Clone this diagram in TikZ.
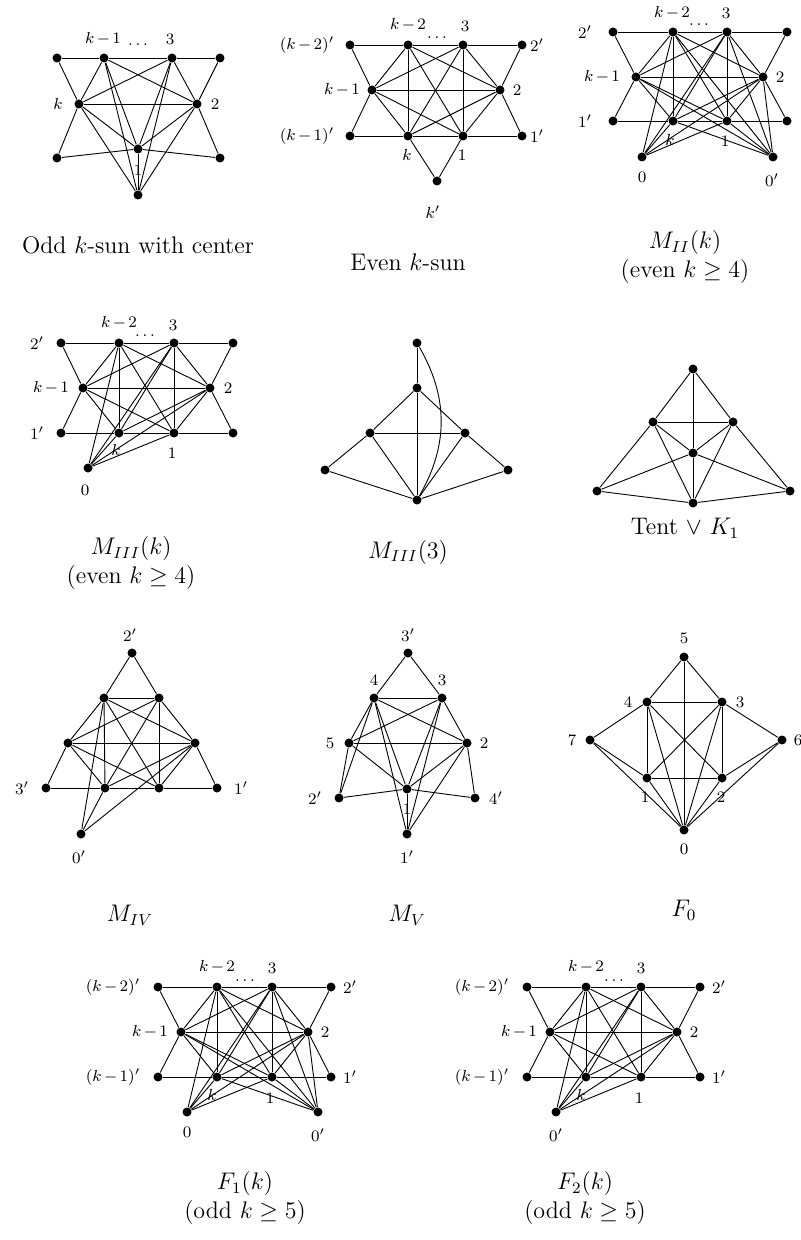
\documentclass[tikz,border=0pt]{standalone}
\usetikzlibrary{positioning}

\begin{document}
\begin{tikzpicture}[x=0.5pt, y=-0.5pt, line width=0.45pt,
  vtx/.style={circle, fill, inner sep=0pt, minimum size=4.5pt},
  lbl/.style={font=\footnotesize, inner sep=0pt},
  captxt/.style={font=\fontsize{12}{14.5}\selectfont, align=center, inner sep=0pt}]

\useasboundingbox (0,0) rectangle (800,1240);

% ============================================================
% k-SOL IMPAR CON CENTRO
% ============================================================
\node[vtx] (os-a) at (57,58) {};
\node[vtx] (os-km1) at (104,58) {};
\node[vtx] (os-3) at (172,58) {};
\node[vtx] (os-b) at (220,58) {};
\node[vtx] (os-k) at (79,104) {};
\node[vtx] (os-2) at (197,104) {};
\node[vtx] (os-1) at (138,149) {};
\node[vtx] (os-c) at (57,158) {};
\node[vtx] (os-d) at (220,158) {};
\node[vtx] (os-z) at (138,195) {};
\foreach \u/\v in {a/km1, km1/3, 3/b, a/k, b/2, k/2, km1/k, km1/2, km1/1, km1/z,
    3/k, 3/2, 3/1, 3/z, k/1, k/z, 2/1, 2/z, 1/z, c/k, c/1, d/2, d/1}
  \draw (os-\u) -- (os-\v);
\node[lbl] (os-lkm1) at (103,39) {$k\mkern-1.5mu-\mkern-1.5mu1$};
\node[lbl] (os-ldots) at (138,45) {$\ldots$};
\node[lbl] (os-l3) at (170,39) {$3$};
\node[lbl] (os-lk) at (58,104) {$k$};
\node[lbl] (os-l2) at (215,104) {$2$};
\node[lbl] (os-l1) at (138,170) {$1$};
\node[captxt] (os-cap) at (138,245) {Odd $k$-sun with center};

% ============================================================
% NODOS DE LOS GRAFOS TIPO SOL
% ============================================================

% --- k-sol par ---
\node[vtx] (es-a) at (350,45) {};
\node[vtx] (es-km2) at (408,45) {};
\node[vtx] (es-3) at (463,45) {};
\node[vtx] (es-b) at (522,45) {};
\node[vtx] (es-km1) at (372,90) {};
\node[vtx] (es-2) at (500,90) {};
\node[vtx] (es-c) at (350,136) {};
\node[vtx] (es-k) at (408,136) {};
\node[vtx] (es-1) at (463,136) {};
\node[vtx] (es-d) at (522,136) {};
\node[vtx] (es-e) at (437,181) {};

% --- M_II(k) ---
\node[vtx] (m2-a) at (613,32) {};
\node[vtx] (m2-km2) at (673,32) {};
\node[vtx] (m2-3) at (727,32) {};
\node[vtx] (m2-b) at (787,32) {};
\node[vtx] (m2-km1) at (636,77) {};
\node[vtx] (m2-2) at (763,77) {};
\node[vtx] (m2-c) at (613,121) {};
\node[vtx] (m2-k) at (673,121) {};
\node[vtx] (m2-1) at (727,121) {};
\node[vtx] (m2-d) at (787,121) {};
\node[vtx] (m2-0) at (642,157) {};
\node[vtx] (m2-0p) at (773,157) {};

% --- M_III(k) ---
\node[vtx] (m3-a) at (61,343) {};
\node[vtx] (m3-km2) at (119,343) {};
\node[vtx] (m3-3) at (174,343) {};
\node[vtx] (m3-b) at (233,343) {};
\node[vtx] (m3-km1) at (83,388) {};
\node[vtx] (m3-2) at (210,388) {};
\node[vtx] (m3-c) at (61,433) {};
\node[vtx] (m3-k) at (119,433) {};
\node[vtx] (m3-1) at (174,433) {};
\node[vtx] (m3-d) at (233,433) {};
\node[vtx] (m3-0) at (88,468) {};

% --- F_1(k) ---
\node[vtx] (f1-a) at (158,987) {};
\node[vtx] (f1-km2) at (217,987) {};
\node[vtx] (f1-3) at (272,987) {};
\node[vtx] (f1-b) at (331,987) {};
\node[vtx] (f1-km1) at (181,1032) {};
\node[vtx] (f1-2) at (308,1032) {};
\node[vtx] (f1-c) at (158,1077) {};
\node[vtx] (f1-k) at (217,1077) {};
\node[vtx] (f1-1) at (272,1077) {};
\node[vtx] (f1-d) at (331,1077) {};
\node[vtx] (f1-0) at (187,1112) {};
\node[vtx] (f1-0p) at (318,1112) {};

% --- F_2(k) ---
\node[vtx] (f2-a) at (527,987) {};
\node[vtx] (f2-km2) at (586,987) {};
\node[vtx] (f2-3) at (641,987) {};
\node[vtx] (f2-b) at (700,987) {};
\node[vtx] (f2-km1) at (550,1032) {};
\node[vtx] (f2-2) at (677,1032) {};
\node[vtx] (f2-c) at (527,1077) {};
\node[vtx] (f2-k) at (586,1077) {};
\node[vtx] (f2-1) at (641,1077) {};
\node[vtx] (f2-d) at (700,1077) {};
\node[vtx] (f2-0p) at (556,1112) {};

% clique central y vertices colgantes (comunes)
\foreach \g in {es, m2, m3, f1, f2} {
  \foreach \u/\v in {km2/3, km2/km1, km2/2, km2/k, km2/1, 3/km1, 3/2, 3/k, 3/1,
      km1/2, km1/k, km1/1, 2/k, 2/1, k/1,
      a/km2, a/km1, b/3, b/2, c/km1, c/k, d/1, d/2}
    \draw (\g-\u) -- (\g-\v);
}
\draw (es-e) -- (es-k) (es-e) -- (es-1);
\foreach \v in {km2, 3, 2, k, 1}
  \draw (m2-0) -- (m2-\v);
\foreach \v in {km2, 3, km1, 2, k, 1}
  \draw (m2-0p) -- (m2-\v);
\foreach \v in {km2, 3, 2, k, 1}
  \draw (m3-0) -- (m3-\v);
\foreach \v in {km2, 3, 2, k, 1}
  \draw (f1-0) -- (f1-\v);
\foreach \v in {km2, 3, km1, 2, k, 1}
  \draw (f1-0p) -- (f1-\v);
\foreach \v in {km2, 3, 2, k, 1}
  \draw (f2-0p) -- (f2-\v);

% --- etiquetas k-sol par ---
\node[lbl] (es-lkm2) at (408,25) {$k\mkern-1.5mu-\mkern-1.5mu2$};
\node[lbl] (es-ldots) at (437,38) {$\ldots$};
\node[lbl] (es-l3) at (465,26) {$3$};
\node[lbl] (es-la) at (307,45) {$(k\mkern-1.5mu-\mkern-1.5mu2)'$};
\node[lbl] (es-lb) at (537,45) {$2'$};
\node[lbl] (es-lkm1) at (342,90) {$k\mkern-1.5mu-\mkern-1.5mu1$};
\node[lbl] (es-l2) at (517,90) {$2$};
\node[lbl] (es-lc) at (307,136) {$(k\mkern-1.5mu-\mkern-1.5mu1)'$};
\node[lbl] (es-ld) at (537,136) {$1'$};
\node[lbl] (es-lk) at (407,155) {$k$};
\node[lbl] (es-l1) at (462,155) {$1$};
\node[lbl] (es-le) at (433,212) {$k'$};
\node[captxt] (es-cap) at (408,262) {Even $k$-sun};

% --- etiquetas M_II(k) ---
\node[lbl] (m2-lkm2) at (672,13) {$k\mkern-1.5mu-\mkern-1.5mu2$};
\node[lbl] (m2-ldots) at (699,25) {$\ldots$};
\node[lbl] (m2-l3) at (726,13) {$3$};
\node[lbl] (m2-la) at (585,32) {$2'$};
\node[lbl] (m2-lkm1) at (602,77) {$k\mkern-1.5mu-\mkern-1.5mu1$};
\node[lbl] (m2-l2) at (780,77) {$2$};
\node[lbl] (m2-lc) at (585,121) {$1'$};
\node[lbl] (m2-lk) at (670,140) {$k$};
\node[lbl] (m2-l1) at (725,141) {$1$};
\node[lbl] (m2-l0) at (642,177) {$0$};
\node[lbl] (m2-l0p) at (772,180) {$0'$};
\node[captxt] (m2-cap) at (685,257) {$M_{II}(k)$\\(even $k\geq 4$)};

% --- etiquetas M_III(k) ---
\node[lbl] (m3-lkm2) at (119,323) {$k\mkern-1.5mu-\mkern-1.5mu2$};
\node[lbl] (m3-ldots) at (145,336) {$\ldots$};
\node[lbl] (m3-l3) at (173,325) {$3$};
\node[lbl] (m3-la) at (37,343) {$2'$};
\node[lbl] (m3-lkm1) at (51,388) {$k\mkern-1.5mu-\mkern-1.5mu1$};
\node[lbl] (m3-l2) at (228,388) {$2$};
\node[lbl] (m3-lc) at (37,433) {$1'$};
\node[lbl] (m3-lk) at (116,450) {$k$};
\node[lbl] (m3-l1) at (172,453) {$1$};
\node[lbl] (m3-l0) at (85,490) {$0$};
\node[captxt] (m3-cap) at (131,563) {$M_{III}(k)$\\(even $k\geq 4$)};

% --- etiquetas F_1(k) ---
\node[lbl] (f1-lkm2) at (217,967) {$k\mkern-1.5mu-\mkern-1.5mu2$};
\node[lbl] (f1-ldots) at (245,981) {$\ldots$};
\node[lbl] (f1-l3) at (272,968) {$3$};
\node[lbl] (f1-la) at (113,987) {$(k\mkern-1.5mu-\mkern-1.5mu2)'$};
\node[lbl] (f1-lb) at (350,987) {$2'$};
\node[lbl] (f1-lkm1) at (150,1032) {$k\mkern-1.5mu-\mkern-1.5mu1$};
\node[lbl] (f1-l2) at (325,1032) {$2$};
\node[lbl] (f1-lc) at (113,1077) {$(k\mkern-1.5mu-\mkern-1.5mu1)'$};
\node[lbl] (f1-ld) at (350,1077) {$1'$};
\node[lbl] (f1-lk) at (212,1095) {$k$};
\node[lbl] (f1-l1) at (270,1098) {$1$};
\node[lbl] (f1-l0) at (187,1132) {$0$};
\node[lbl] (f1-l0p) at (318,1135) {$0'$};
\node[captxt] (f1-cap) at (245,1198) {$F_1(k)$\\(odd $k\geq 5$)};

% --- etiquetas F_2(k) ---
\node[lbl] (f2-lkm2) at (586,967) {$k\mkern-1.5mu-\mkern-1.5mu2$};
\node[lbl] (f2-ldots) at (614,981) {$\ldots$};
\node[lbl] (f2-l3) at (641,968) {$3$};
\node[lbl] (f2-la) at (482,987) {$(k\mkern-1.5mu-\mkern-1.5mu2)'$};
\node[lbl] (f2-lb) at (719,987) {$2'$};
\node[lbl] (f2-lkm1) at (519,1032) {$k\mkern-1.5mu-\mkern-1.5mu1$};
\node[lbl] (f2-l2) at (694,1032) {$2$};
\node[lbl] (f2-lc) at (482,1077) {$(k\mkern-1.5mu-\mkern-1.5mu1)'$};
\node[lbl] (f2-ld) at (719,1077) {$1'$};
\node[lbl] (f2-lk) at (581,1095) {$k$};
\node[lbl] (f2-l1) at (639,1098) {$1$};
\node[lbl] (f2-l0p) at (556,1135) {$0'$};
\node[captxt] (f2-cap) at (585,1198) {$F_2(k)$\\(odd $k\geq 5$)};

% ============================================================
% M_III(3)
% ============================================================
\node[vtx] (t3-t) at (417,343) {};
\node[vtx] (t3-s) at (417,388) {};
\node[vtx] (t3-ml) at (370,433) {};
\node[vtx] (t3-mr) at (465,433) {};
\node[vtx] (t3-fl) at (325,470) {};
\node[vtx] (t3-fr) at (508,470) {};
\node[vtx] (t3-b) at (417,500) {};
\draw (t3-t) -- (t3-s) -- (t3-b);
\draw (t3-t) to[bend left=30] (t3-b);
\foreach \u/\v in {s/ml, s/mr, ml/mr, ml/fl, ml/b, mr/fr, mr/b, fl/b, fr/b}
  \draw (t3-\u) -- (t3-\v);
\node[captxt] (t3-cap) at (408,552) {$M_{III}(3)$};

% ============================================================
% TIENDA V K_1
% ============================================================
\node[vtx] (tk-a) at (693,369) {};
\node[vtx] (tk-l) at (653,422) {};
\node[vtx] (tk-r) at (733,422) {};
\node[vtx] (tk-c) at (693,453) {};
\node[vtx] (tk-bl) at (597,491) {};
\node[vtx] (tk-br) at (790,491) {};
\node[vtx] (tk-d) at (693,503) {};
\foreach \u/\v in {a/l, a/r, a/c, l/r, l/c, r/c, l/bl, r/br, l/d, r/d,
    bl/d, br/d, c/d, c/bl, c/br}
  \draw (tk-\u) -- (tk-\v);
\node[captxt] (tk-cap) at (685,528) {Tent $\vee$ $K_1$};

% ============================================================
% M_IV
% ============================================================
\node[vtx] (m4-2p) at (132,653) {};
\node[vtx] (m4-u1) at (104,698) {};
\node[vtx] (m4-u2) at (159,698) {};
\node[vtx] (m4-m1) at (68,743) {};
\node[vtx] (m4-m2) at (195,743) {};
\node[vtx] (m4-3p) at (46,788) {};
\node[vtx] (m4-l2) at (105,788) {};
\node[vtx] (m4-l3) at (159,788) {};
\node[vtx] (m4-1p) at (217,788) {};
\node[vtx] (m4-0p) at (81,834) {};
\foreach \u/\v in {u1/u2, u1/m1, u1/m2, u1/l2, u1/l3, u2/m1, u2/m2, u2/l2, u2/l3,
    m1/m2, m1/l2, m1/l3, m2/l2, m2/l3, l2/l3,
    2p/u1, 2p/u2, 3p/m1, 3p/l2, 1p/l3, 1p/m2, 0p/l2, 0p/m2, 0p/u1}
  \draw (m4-\u) -- (m4-\v);
\node[lbl] (m4-l2p) at (130,635) {$2'$};
\node[lbl] (m4-l3p) at (22,788) {$3'$};
\node[lbl] (m4-l1p) at (241,788) {$1'$};
\node[lbl] (m4-l0p) at (79,857) {$0'$};
\node[captxt] (m4-cap) at (130,915) {$M_{IV}$};

% ============================================================
% M_V
% ============================================================
\node[vtx] (m5-3p) at (408,653) {};
\node[vtx] (m5-4) at (374,698) {};
\node[vtx] (m5-3) at (442,698) {};
\node[vtx] (m5-5) at (349,743) {};
\node[vtx] (m5-2) at (467,743) {};
\node[vtx] (m5-1) at (407,789) {};
\node[vtx] (m5-2p) at (339,798) {};
\node[vtx] (m5-4p) at (475,798) {};
\node[vtx] (m5-1p) at (407,834) {};
\foreach \u/\v in {4/3, 4/5, 4/2, 4/1, 3/5, 3/2, 3/1, 5/2, 5/1, 2/1,
    3p/4, 3p/3, 2p/5, 2p/4, 2p/1, 4p/2, 4p/1, 1p/1, 1p/2, 1p/3, 1p/4}
  \draw (m5-\u) -- (m5-\v);
\node[lbl] (m5-l3p) at (408,635) {$3'$};
\node[lbl] (m5-l4) at (374,680) {$4$};
\node[lbl] (m5-l3) at (442,680) {$3$};
\node[lbl] (m5-l5) at (330,743) {$5$};
\node[lbl] (m5-l2) at (484,743) {$2$};
\node[lbl] (m5-l2p) at (315,798) {$2'$};
\node[lbl] (m5-l4p) at (496,798) {$4'$};
\node[lbl] (m5-l1) at (407,809) {$1$};
\node[lbl] (m5-l1p) at (407,857) {$1'$};
\node[captxt] (m5-cap) at (407,915) {$M_V$};

% ============================================================
% F_0
% ============================================================
\node[vtx] (f0-5) at (684,657) {};
\node[vtx] (f0-4) at (647,702) {};
\node[vtx] (f0-3) at (722,702) {};
\node[vtx] (f0-7) at (590,740) {};
\node[vtx] (f0-6) at (782,740) {};
\node[vtx] (f0-1) at (647,778) {};
\node[vtx] (f0-2) at (722,778) {};
\node[vtx] (f0-0) at (684,830) {};
\foreach \u/\v in {5/4, 5/3, 5/0, 4/3, 4/1, 4/2, 4/0, 3/2, 3/1, 3/0, 1/2, 1/0, 2/0,
    7/4, 7/1, 7/0, 6/3, 6/2, 6/0}
  \draw (f0-\u) -- (f0-\v);
\node[lbl] (f0-l5) at (684,638) {$5$};
\node[lbl] (f0-l4) at (628,702) {$4$};
\node[lbl] (f0-l3) at (740,702) {$3$};
\node[lbl] (f0-l7) at (572,740) {$7$};
\node[lbl] (f0-l6) at (798,740) {$6$};
\node[lbl] (f0-l1) at (645,797) {$1$};
\node[lbl] (f0-l2) at (721,797) {$2$};
\node[lbl] (f0-l0) at (684,849) {$0$};
\node[captxt] (f0-cap) at (684,910) {$F_0$};

\end{tikzpicture}
\end{document}
